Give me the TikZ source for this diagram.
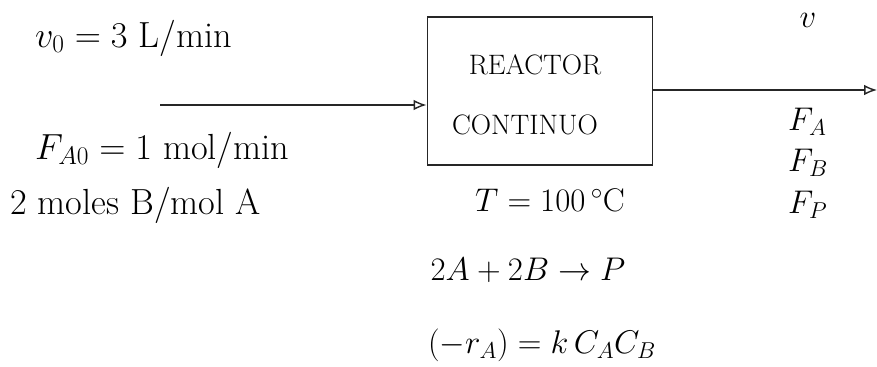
\RequirePackage{fix-cm}
\documentclass[tikz,border=0pt]{standalone}
\usepackage{amsmath}
\usetikzlibrary{arrows.meta}
\begin{document}
\begin{tikzpicture}[x=0.03cm,y=-0.03cm,
  ink/.style={line width=1.6pt,draw=black!85},
  flow/.style={line width=1.2pt,draw=black!85,-{Latex[open,length=11pt,width=9pt]}},
  lbl/.style={font=\fontsize{28}{34}\selectfont,anchor=west,inner sep=0pt},
  big/.style={lbl,font=\fontsize{31}{37}\selectfont},
  inbox/.style={lbl,font=\fontsize{24}{30}\selectfont,anchor=center}]
\useasboundingbox (0,0) rectangle (877,366);
% reactor vessel
\node[ink,draw,minimum width=225*0.03cm,minimum height=148*0.03cm,inner sep=0pt]
  (reactor) at (540,91) {};
\node[inbox] (r1) at (535,65) {REACTOR};
\node[inbox] (r2) at (525,125) {CONTINUO};
% feed and product streams
\coordinate (feed) at (160,105);
\coordinate (prod) at (877,90);
\draw[flow] (feed) -- (reactor.west |- feed);
\draw[flow] (reactor.east |- prod) -- (prod);
% feed data
\node[big] (v0) at (35,38) {$v_0 = 3$ L/min};
\node[big] (fa0) at (35,150) {$F_{A0} = 1$ mol/min};
\node[big] (ratio) at (10,205) {2 moles B/mol A};
% operating data
\node[lbl,anchor=center] (temp) at (550,200) {$T = 100\,^\circ\mathrm{C}$};
\node[lbl,anchor=center] (rxn) at (528,270) {$2A + 2B \rightarrow P$};
\node[lbl,anchor=center] (rate) at (542,345) {$(-r_A) = k\,C_A C_B$};
% product data
\node[lbl,anchor=center] (v) at (808,20) {$v$};
\node[lbl] (fa) at (788,122) {$F_A$};
\node[lbl] (fb) at (788,163) {$F_B$};
\node[lbl] (fp) at (788,205) {$F_P$};
\end{tikzpicture}
\end{document}
